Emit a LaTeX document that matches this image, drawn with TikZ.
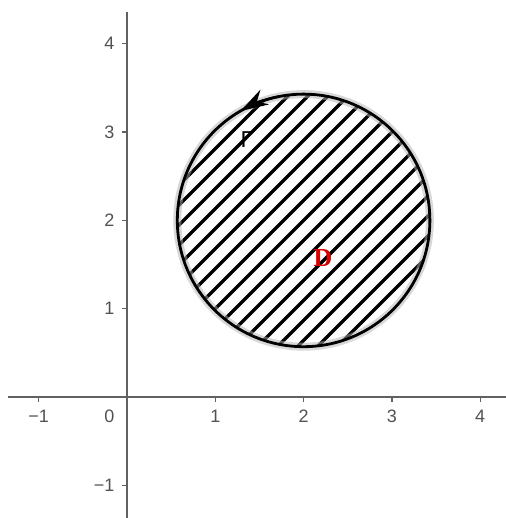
\documentclass[tikz,border=0pt]{standalone}
\usepackage{fontspec}
\setmainfont{Liberation Sans}
\newfontfamily\serifD{Liberation Serif}
\usetikzlibrary{arrows.meta,calc}
\begin{document}
\begin{tikzpicture}[x=88.3pt,y=88.3pt,
  axisline/.style={draw=black!62, line width=1.8pt},
  tickmark/.style={draw=black!62, line width=1.3pt},
  lbl/.style={font=\fontsize{18}{18}\selectfont, text=black!68, inner sep=0pt},
  hatchline/.style={line width=3.4pt, black},
]
\useasboundingbox (-1.438,-1.370) rectangle (4.292,4.496);
\fill[white] (-1.438,-1.370) rectangle (4.292,4.496);
% axes
\coordinate (xl) at (-1.348,0);
\coordinate (xr) at (4.292,0);
\coordinate (yb) at (0,-1.37);
\coordinate (yt) at (0,4.36);
\draw[axisline] (xl) -- (xr);
\draw[axisline] (yb) -- (yt);
% ticks and labels
\foreach \i/\t in {-1/−1,1/1,2/2,3/3,4/4} {
  \coordinate (tx\i) at (\i,0);
  \draw[tickmark] (tx\i) -- ++(0,-4.5pt);
  \node[lbl] (lx\i) at (\i,-0.215) {\t};
}
\foreach \i/\t in {-1/−1,1/1,2/2,3/3,4/4} {
  \coordinate (ty\i) at (0,\i);
  \draw[tickmark] (ty\i) -- ++(-4.5pt,0);
  \node[lbl, anchor=east] (ly\i) at (-0.14,\i) {\t};
}
\node[lbl] (l0) at (-0.2,-0.215) {0};
% region D
\coordinate (c) at (2,2);
\begin{scope}
  \clip (c) circle (1.43);
  \foreach \k in {-10,...,10} {
    \draw[hatchline] ($(c)+(\k*0.2265-2.2,-2.2)$) -- ++(4.4,4.4);
  }
\end{scope}
\draw[gray!60, line width=8pt, opacity=0.5] (c) circle (1.43);
\draw[black, line width=2.8pt] (c) circle (1.43);
% orientation arrow
\draw[black, line width=2.4pt, -{Stealth[length=28pt,width=17pt]}] (c) ++(101:1.43) arc (101:120:1.43);
% labels
\node[font=\fontsize{23}{23}\selectfont, text=black, inner sep=0pt] (gamma) at (1.36,2.91) {Γ};
\node[font=\serifD\bfseries\fontsize{26}{26}\selectfont, text=red!85!black, inner sep=0pt] (dlab) at (2.22,1.57) {D};
\end{tikzpicture}
\end{document}
